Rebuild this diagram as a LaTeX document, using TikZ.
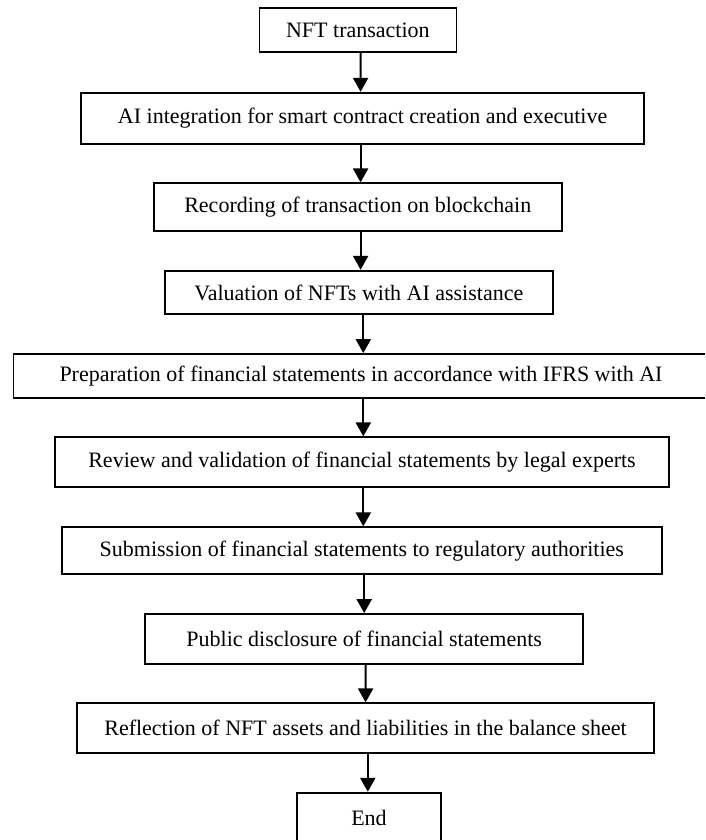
\documentclass[tikz,border=0pt]{standalone}
\usepackage{fontspec}
\setmainfont{Liberation Serif}
\usetikzlibrary{arrows.meta}
\begin{document}
\begin{tikzpicture}[x=1pt,y=-1pt,
  stepbox/.style={draw=black,line width=1.8pt,fill=white,inner sep=0pt,
    font=\fontsize{22}{26}\selectfont,text=black},
  arr/.style={line width=2.2pt,-{Triangle[length=14pt,width=15pt]}}]
\useasboundingbox (0,0) rectangle (705,840);
\clip (0,0) rectangle (705,840);
\node[stepbox,minimum width=197pt,minimum height=44pt] (b1) at (357.9,30.3) {NFT transaction};
\node[stepbox,minimum width=562.5pt,minimum height=51.3pt] (b2) at (362.6,118.4) {AI integration for smart contract creation and executive};
\node[stepbox,minimum width=407.6pt,minimum height=47.4pt] (b3) at (357.8,207) {Recording of transaction on blockchain};
\node[stepbox,minimum width=387.6pt,minimum height=43.6pt] (b4) at (358.8,292.5) {Valuation of NFTs with AI assistance};
\node[stepbox,minimum width=695pt,minimum height=44pt] (b5) at (361,376) {Preparation of financial statements in accordance with IFRS with AI};
\node[stepbox,minimum width=613.3pt,minimum height=50pt] (b6) at (362,462.3) {Review and validation of financial statements by legal experts};
\node[stepbox,minimum width=600.3pt,minimum height=47pt] (b7) at (361.8,550.8) {Submission of financial statements to regulatory authorities};
\node[stepbox,minimum width=438pt,minimum height=50pt] (b8) at (364.2,639) {Public disclosure of financial statements};
\node[stepbox,minimum width=576.5pt,minimum height=50pt] (b9) at (365.5,728.3) {Reflection of NFT assets and liabilities in the balance sheet};
\node[stepbox,minimum width=144.3pt,minimum height=50pt,text depth=0pt] (b10) at (369,817.7) {End};
\draw[arr] ([xshift=2.7pt]b1.south) -- ([xshift=-2pt]b2.north);
\draw[arr] ([xshift=-2pt]b2.south) -- ([xshift=2.8pt]b3.north);
\draw[arr] ([xshift=2.8pt]b3.south) -- ([xshift=1.8pt]b4.north);
\draw[arr] ([xshift=4.5pt]b4.south) -- ([xshift=2.3pt]b5.north);
\draw[arr] ([xshift=2.3pt]b5.south) -- ([xshift=1.3pt]b6.north);
\draw[arr] ([xshift=1.3pt]b6.south) -- ([xshift=1.5pt]b7.north);
\draw[arr] ([xshift=2.4pt]b7.south) -- ([xshift=0pt]b8.north);
\draw[arr] ([xshift=1.4pt]b8.south) -- ([xshift=0.1pt]b9.north);
\draw[arr] ([xshift=2.3pt]b9.south) -- ([xshift=-1.2pt]b10.north);
\end{tikzpicture}
\end{document}
